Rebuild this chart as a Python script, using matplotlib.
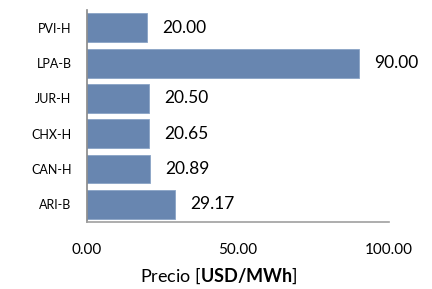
import matplotlib
matplotlib.use("Agg")
import matplotlib.pyplot as plt

# data, top to bottom as in the picture
plants = ["PVI-H", "LPA-B", "JUR-H", "CHX-H", "CAN-H", "ARI-B"]
precio = [20.00, 90.00, 20.50, 20.65, 20.89, 29.17]
xticks = [0, 50, 100]

plt.rcParams['font.family'] = ['Lato', 'DejaVu Sans']
plt.rcParams['mathtext.fontset'] = 'custom'
plt.rcParams['mathtext.rm'] = 'Lato'
plt.rcParams['mathtext.bf'] = 'Lato:bold'

fig = plt.figure(figsize=(4.32, 2.89), dpi=100)
ax = fig.add_axes([0.201, 0.232, 0.699, 0.733])

y = list(range(len(plants)))[::-1]
bars = ax.barh(y, precio, height=0.82, color="#6886b0", edgecolor="#8aa3c6", linewidth=0.6)

for yi, v in zip(y, precio):
    ax.annotate("%.2f" % v, (v, yi), xytext=(11, 0), textcoords="offset points",
                va="center", ha="left", fontsize=12.5, color="black")

ax.set_xlim(0, 100)
ax.set_ylim(-0.5, len(plants) - 0.5)
ax.set_yticks(y)
ax.set_yticklabels(plants, fontsize=9)
ax.set_xticks(xticks)
ax.set_xticklabels(["%.2f" % t for t in xticks], fontsize=11)
ax.tick_params(axis="both", length=0)
ax.tick_params(axis="x", pad=15)
ax.tick_params(axis="y", pad=11)

for s in ["top", "right"]:
    ax.spines[s].set_visible(False)
ax.spines["left"].set_color("#888888")
ax.spines["bottom"].set_color("#a0a0a0")
ax.spines["left"].set_linewidth(1.2)
ax.spines["bottom"].set_linewidth(1.2)

ax.set_xlabel(r"Precio [$\mathbf{USD/MWh}$]", fontsize=13, va="center")
ax.xaxis.set_label_coords(0.437, -0.255)

fig.savefig("out.png", dpi=100)
